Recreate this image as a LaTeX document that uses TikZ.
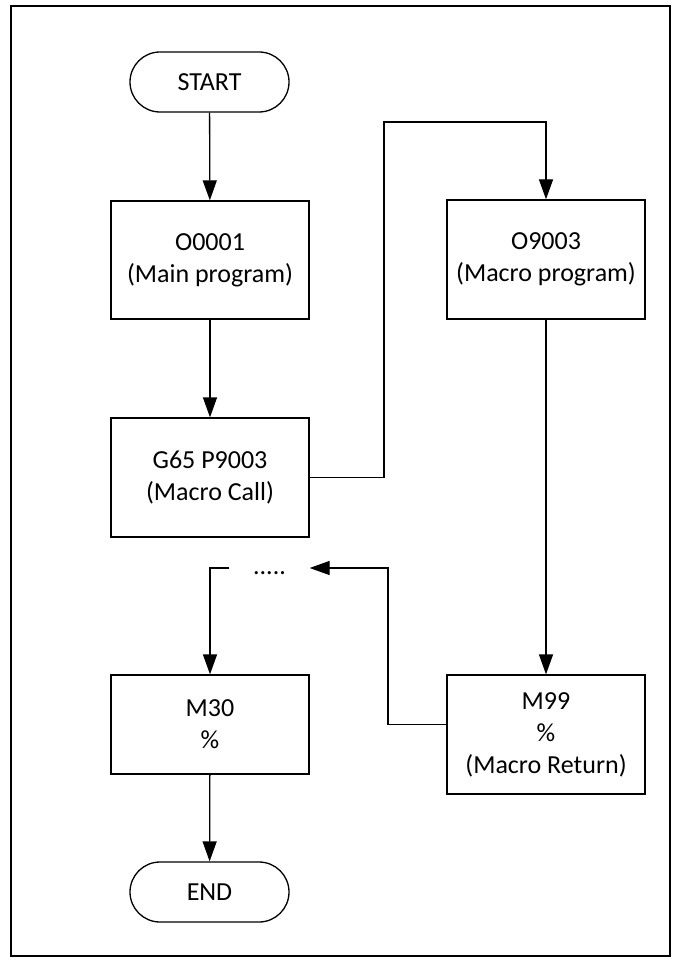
\documentclass[tikz,border=0pt]{standalone}
\usepackage{fontspec}
\setmainfont{Carlito}
\usetikzlibrary{arrows.meta}
\tikzset{
  base/.style={font=\fontsize{26}{32}\selectfont, align=center, line width=1.3pt, inner sep=0pt},
  procbox/.style={base, draw, minimum width=198pt},
  terminal/.style={base, draw, rounded corners=30pt, minimum width=159pt, minimum height=60pt},
  arr/.style={line width=1.3pt, -{Triangle[length=20pt,width=14pt]}},
  wire/.style={line width=1.3pt}
}
\begin{document}
\begin{tikzpicture}[x=1pt,y=-1pt]
  \useasboundingbox (0,0) rectangle (673,960);
  \draw[wire] (11,6) rectangle (670,956);

  % main program column
  \node[terminal] (start) at (209.5,82) {START};
  \node[procbox, minimum height=118pt] (main) at (210,260) {O0001\\(Main program)};
  \node[procbox, minimum height=119pt] (call) at (210,477.5) {G65 P9003\\(Macro Call)};
  \node[base, minimum width=79pt, text height=12pt, text depth=0pt] (dots) at (269.5,568) {.....};
  \node[procbox, minimum height=99pt] (m30) at (210,724.5) {M30\\\%};
  \node[terminal] (end) at (209.5,892) {END};

  % macro column
  \node[procbox, minimum height=119pt] (macro) at (546,259.5) {O9003\\(Macro program)};
  \node[procbox, minimum height=119pt] (m99) at (546,734.5) {M99\\\%\\(Macro Return)};

  % routing points
  \coordinate (up) at (384,122);
  \coordinate (back) at (388,568);

  \draw[arr] (start) -- (main);
  \draw[arr] (main) -- (call);
  \draw[arr] (call.east) -| (up) -| (macro.north);
  \draw[arr] (macro) -- (m99);
  \draw[arr] ([yshift=10pt]m99.west) -| (back) -- (dots.east);
  \draw[arr] (dots.west) -| (m30.north);
  \draw[arr] (m30) -- (end);
\end{tikzpicture}
\end{document}
